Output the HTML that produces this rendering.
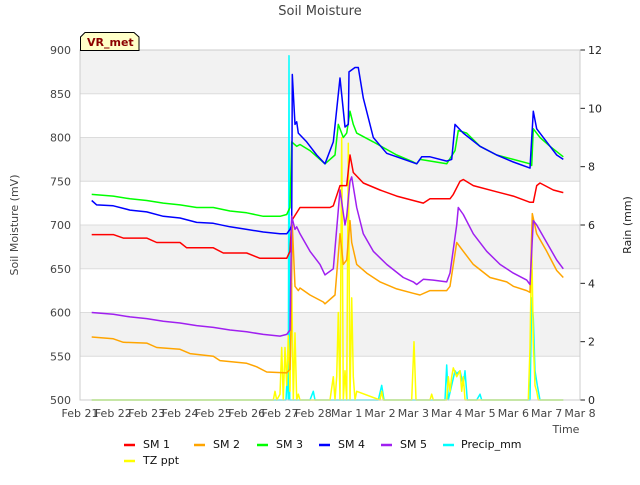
<!DOCTYPE html>
<html><head><meta charset="utf-8"><style>
body{margin:0;background:#fff;font-family:"Liberation Sans","DejaVu Sans",sans-serif}
svg text{font-family:"DejaVu Sans","Liberation Sans",sans-serif}
</style></head><body>
<svg id="c" width="640" height="480" xmlns="http://www.w3.org/2000/svg">
<g id="bands"></g>
<g id="grid"></g>
<g id="rain"></g>
<g id="lines"></g>
<g id="axes"></g>
</svg>
<script>
const xTickLabels=["Feb 21","Feb 22","Feb 23","Feb 24","Feb 25","Feb 26","Feb 27","Feb 28","Mar 1","Mar 2","Mar 3","Mar 4","Mar 5","Mar 6","Mar 7","Mar 8"];
const yTicks=[500,550,600,650,700,750,800,850,900];
const y2Ticks=[0,2,4,6,8,10,12];
const sm1T=[0.35,1,1.3,2,2.3,3,3.2,4,4.3,5,5.4,6.2,6.3,6.35,6.6,7.5,7.6,7.8,8.0,8.1,8.2,8.5,9,9.5,10,10.3,10.5,11.1,11.2,11.4,11.5,11.8,12.5,13,13.5,13.6,13.7,13.8,14.2,14.5];
const sm1V=[689,689,685,685,680,680,674,674,668,668,662,662,670,705,720,720,722,745,745,780,760,748,740,733,728,725,730,730,735,750,752,745,738,733,726,726,745,748,740,737];
const sm2T=[0.35,1,1.3,2,2.3,3,3.3,4,4.2,5,5.3,5.6,6.2,6.3,6.33,6.37,6.45,6.55,6.6,6.9,7.3,7.35,7.65,7.8,7.9,8.0,8.1,8.15,8.3,8.6,9,9.5,10,10.2,10.5,11.0,11.1,11.3,11.5,11.8,12.3,12.8,13,13.4,13.5,13.57,13.7,14,14.3,14.5];
const sm2V=[572,570,566,565,560,558,553,550,545,542,538,532,531,535,580,700,630,625,628,620,612,610,620,690,655,660,705,680,655,645,635,627,622,620,625,625,630,680,670,655,640,635,630,625,623,713,690,670,648,640];
const sm3T=[0.35,1,1.5,2,2.5,3,3.5,4,4.5,5,5.5,6,6.2,6.3,6.35,6.5,6.6,6.9,7.2,7.35,7.65,7.75,7.9,8.0,8.1,8.2,8.3,8.8,9.5,10,10.1,10.2,11,11.25,11.35,11.6,12,12.5,13,13.5,13.55,13.6,13.8,14.1,14.5];
const sm3V=[735,733,730,728,725,723,720,720,716,714,710,710,712,720,795,790,792,785,775,770,780,815,800,805,830,815,805,795,780,772,770,775,770,785,808,805,790,780,775,770,768,810,800,790,778];
const sm4T=[0.35,0.5,1,1.5,2,2.5,3,3.5,4,4.5,5,5.5,6,6.2,6.3,6.35,6.37,6.45,6.5,6.55,6.8,7.1,7.35,7.6,7.8,7.95,8.05,8.07,8.25,8.35,8.5,8.8,9.2,10.1,10.25,10.5,11.0,11.15,11.25,11.5,12,12.5,13,13.5,13.6,13.7,14,14.3,14.5];
const sm4V=[728,723,722,717,715,710,708,703,702,698,695,692,690,690,695,700,872,815,818,805,795,780,770,795,868,812,815,875,880,880,845,800,782,770,778,778,773,775,815,805,790,780,772,765,830,810,795,780,775];
const sm5T=[0.35,1,1.5,2,2.5,3,3.5,4,4.5,5,5.5,6,6.2,6.3,6.35,6.45,6.5,6.6,6.9,7.2,7.35,7.6,7.8,7.95,8.0,8.1,8.15,8.3,8.5,8.8,9.2,9.7,10.0,10.1,10.3,10.6,11.0,11.1,11.3,11.35,11.5,11.8,12.2,12.6,13,13.4,13.5,13.6,13.7,14,14.3,14.5];
const sm5V=[600,598,595,593,590,588,585,583,580,578,575,573,575,580,710,695,698,690,670,655,643,650,740,700,710,750,755,720,690,670,655,640,635,632,638,637,635,645,700,720,712,690,670,655,645,637,632,705,700,680,660,650];
const precipT=[0.35,6.18,6.22,6.25,6.27,6.29,6.33,6.9,7.0,7.05,8.95,9.05,9.12,10.95,11.0,11.05,11.25,11.3,11.4,11.5,11.55,11.62,11.9,12.0,12.05,13.5,13.55,13.6,13.65,13.72,13.8,14.5];
const precipV=[0,0,0.9,0,11.8,0,0,0,0.3,0,0,0.5,0,0,1.2,0,1.0,0.9,1.0,0.5,1.0,0,0,0.2,0,0,3.5,2.8,1.0,0.5,0,0];
const tzT=[0.35,5.8,5.85,5.9,6.0,6.05,6.1,6.15,6.2,6.25,6.3,6.35,6.4,6.45,6.5,6.55,6.6,6.7,7.5,7.6,7.65,7.7,7.75,7.8,7.85,7.9,7.95,8.0,8.05,8.1,8.15,8.2,8.25,8.3,9.0,9.05,9.1,9.95,10.02,10.08,10.5,10.55,10.6,11.0,11.05,11.1,11.15,11.2,11.3,11.4,11.45,11.5,11.55,11.6,13.45,13.5,13.55,13.6,13.65,13.7,13.75,14.5];
const tzV=[0,0,0.3,0,0.2,1.8,0,1.8,0.5,2.2,0.3,4.0,0,2.3,0,0.2,0,0,0,0.8,0,0.8,3.0,0,9.0,0,1.0,0,8.8,0,3.5,0.8,0,0.3,0,0.3,0,0,2.0,0,0,0.2,0,0,0.8,0.3,0.8,1.1,0.8,1.0,0.3,0.8,0,0,0,1.8,5.5,2.0,0.5,0.3,0,0];

const NS="http://www.w3.org/2000/svg";
const L=80,R=580,T=50,B=400;
const xS=t=>L+t*(R-L)/15;
const yS=v=>B-(v-500)*(B-T)/400;
const y2S=v=>B-v*(B-T)/12;
function mk(tag,attrs,parent,txt){const e=document.createElementNS(NS,tag);for(const k in attrs)e.setAttribute(k,attrs[k]);if(txt!==undefined)e.textContent=txt;document.getElementById(parent).appendChild(e);return e;}
for(let i=0;i<8;i++){const v0=500+i*50;const r=mk('rect',{x:L,y:yS(v0+50),width:R-L,height:yS(v0)-yS(v0+50),fill:(i%2===0)?'#ffffff':'#f2f2f2'},'bands');

}
yTicks.forEach(v=>{const g=mk('line',{x1:L,x2:R,y1:yS(v),y2:yS(v),stroke:'#dcdcdc','stroke-width':1},'grid');


const t=mk('text',{x:L-9,y:yS(v)+4,'text-anchor':'end','font-size':11,fill:'#444'},'axes',String(v));

});
y2Ticks.forEach(v=>{const k=mk('line',{x1:R,x2:R+5,y1:y2S(v),y2:y2S(v),stroke:'#222'},'axes');


const t=mk('text',{x:R+8,y:y2S(v)+4,'font-size':11,fill:'#222'},'axes',String(v));

});
xTickLabels.forEach((s,i)=>{const t=mk('text',{x:xS(i),y:417,'text-anchor':'middle','font-size':11,fill:'#444'},'axes',s);

});
const ax=mk('rect',{x:L,y:T,width:R-L,height:B-T,fill:'none',stroke:'#cccccc'},'axes');


function pl(ts,vs,sc,col,name,parent,w){const p=ts.map((t,i)=>xS(t).toFixed(1)+','+sc(vs[i]).toFixed(1)).join(' ');
const e=mk('polyline',{points:p,fill:'none',stroke:col,'stroke-width':w||1.5,'stroke-linejoin':'round'},parent);

}
pl(precipT,precipV,y2S,'#00ffff','precip-mm-line','rain',1.5);
pl(tzT,tzV,y2S,'#ffff00','tz-ppt-line','rain',1.5);
pl(sm1T,sm1V,yS,'#ff0000','sm1-line','lines');
pl(sm2T,sm2V,yS,'#ffa500','sm2-line','lines');
pl(sm3T,sm3V,yS,'#00ff00','sm3-line','lines');
pl(sm4T,sm4V,yS,'#0000ff','sm4-line','lines');
pl(sm5T,sm5V,yS,'#a020f0','sm5-line','lines');
</script>
<svg style="position:absolute;left:0;top:0" width="640" height="480" xmlns="http://www.w3.org/2000/svg">
<text x="320" y="15" text-anchor="middle" font-size="13" fill="#444">Soil Moisture</text>
<text transform="translate(18,225) rotate(-90)" text-anchor="middle" font-size="11" fill="#444">Soil Moisture (mV)</text>
<text transform="translate(631,225) rotate(-90)" text-anchor="middle" font-size="11" fill="#222">Rain (mm)</text>
<text x="566" y="433" text-anchor="middle" font-size="11" fill="#444">Time</text>
<g>
<path d="M80.5,50.5 L80.5,37 L85,32.5 L134,32.5 L139,37 L139,50.5 Z" fill="#ffffc8" stroke="#000" stroke-width="1"/>
<text x="87" y="46" font-size="11" font-weight="bold" fill="#8b0000">VR_met</text>
</g>
<g font-size="11" fill="#111">
<g><line x1="124" x2="135" y1="445" y2="445" stroke="#ff0000" stroke-width="2.5"/><text x="143" y="448">SM 1</text></g>
<g><line x1="194" x2="205" y1="445" y2="445" stroke="#ffa500" stroke-width="2.5"/><text x="213" y="448">SM 2</text></g>
<g><line x1="257" x2="268" y1="445" y2="445" stroke="#00ff00" stroke-width="2.5"/><text x="276" y="448">SM 3</text></g>
<g><line x1="319" x2="330" y1="445" y2="445" stroke="#0000ff" stroke-width="2.5"/><text x="338" y="448">SM 4</text></g>
<g><line x1="381" x2="392" y1="445" y2="445" stroke="#a020f0" stroke-width="2.5"/><text x="400" y="448">SM 5</text></g>
<g><line x1="443" x2="454" y1="445" y2="445" stroke="#00ffff" stroke-width="2.5"/><text x="461" y="448">Precip_mm</text></g>
<g><line x1="124" x2="135" y1="461" y2="461" stroke="#ffff00" stroke-width="2.5"/><text x="143" y="464">TZ ppt</text></g>
</g>
</svg>
</body></html>
